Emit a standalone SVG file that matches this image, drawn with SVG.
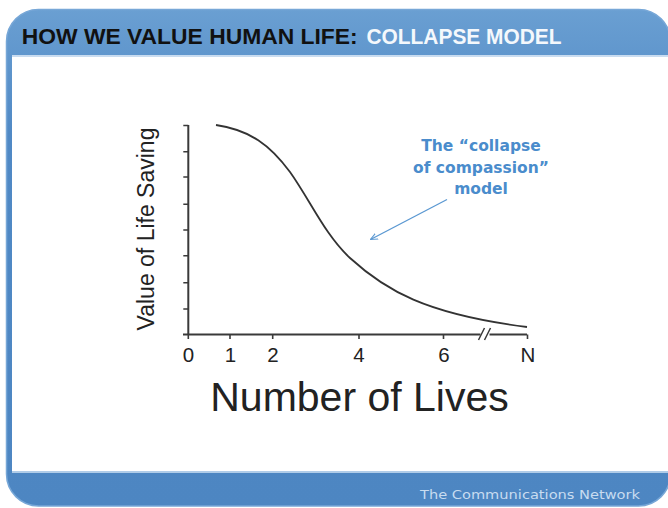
<svg xmlns="http://www.w3.org/2000/svg" width="668" height="508" viewBox="0 0 668 508">
<style>
.axis{stroke:#3a3a3a;stroke-width:2;fill:none}
.tick{stroke:#3a3a3a;stroke-width:1.6;fill:none}
.lbl{font-family:"Liberation Sans",Arial,sans-serif;fill:#222}
.note{font-family:"DejaVu Sans","Liberation Sans",sans-serif;font-weight:bold;font-size:15.5px;fill:#4a8ccc;text-anchor:middle}
</style>
<defs>
<linearGradient id="hdr" x1="0" y1="0" x2="0" y2="1">
<stop offset="0" stop-color="#6a9fd2"/>
<stop offset="0.25" stop-color="#5089c5"/>
<stop offset="1" stop-color="#4d86c2"/>
</linearGradient>
<marker id="ah" viewBox="0 0 10 10" refX="9" refY="5" markerWidth="8" markerHeight="8" orient="auto" markerUnits="userSpaceOnUse">
<path d="M0,1 L9,5 L0,9" fill="none" stroke="#5a98d2" stroke-width="1.3"/>
</marker>
</defs>
<rect width="668" height="508" fill="#ffffff"/>
<g id="frame">
<rect x="6.5" y="9.5" width="664" height="496.5" rx="32" ry="32" fill="url(#hdr)" stroke="#77a7d7" stroke-width="1.5"/>
<rect x="12" y="55" width="660" height="2" fill="#c9dcf0"/>
<rect x="12" y="57" width="660" height="414" fill="#ffffff"/>
<rect x="12" y="471" width="660" height="2" fill="#b0cce8"/>
<rect x="12" y="473" width="660" height="2" fill="#4d86c2"/>
</g>
<g id="header">
<text x="21.7" y="43.5" font-family="'Liberation Sans',Arial,sans-serif" font-weight="bold" font-size="22" fill="#111111" textLength="336" lengthAdjust="spacingAndGlyphs">HOW WE VALUE HUMAN LIFE:</text>
<text x="366.5" y="43.5" font-family="'Liberation Sans',Arial,sans-serif" font-weight="bold" font-size="22" fill="#f4f8fc" textLength="195" lengthAdjust="spacingAndGlyphs">COLLAPSE MODEL</text>
</g>
<g id="footer">
<text x="420" y="499" font-family="'DejaVu Sans','Liberation Sans',sans-serif" font-size="12.5" fill="#c8dcf0" textLength="220" lengthAdjust="spacingAndGlyphs">The Communications Network</text>
</g>
<g id="axes">
<path class="axis" d="M188.3,125 V334.5 M183,334.5 H527"/>
<path class="tick" d="M183.3,125.5 H188.3 M183.3,151.7 H188.3 M183.3,177 H188.3 M183.3,204.3 H188.3 M183.3,230 H188.3 M183.3,255.7 H188.3 M183.3,282.7 H188.3 M183.3,309 H188.3"/>
<path class="tick" d="M188.3,334.5 V339 M230,334.5 V339 M272.7,334.5 V339 M359,334.5 V339 M443.5,334.5 V339 M527.5,334.5 V339"/>
<rect x="480.5" y="333" width="9" height="3" fill="#ffffff"/>
<path d="M478.5,340 L484.5,328 M484.5,340 L490.5,328" stroke="#3a3a3a" stroke-width="1.5" fill="none"/>
<g class="lbl" font-size="20.5" text-anchor="middle">
<text x="188.5" y="362">0</text>
<text x="230.5" y="362">1</text>
<text x="273" y="362">2</text>
<text x="359" y="362">4</text>
<text x="444" y="362">6</text>
<text x="528" y="362">N</text>
</g>
<text class="lbl" x="359.5" y="410.5" font-size="41" text-anchor="middle">Number of Lives</text>
<text class="lbl" transform="translate(153.5,229) rotate(-90)" font-size="23" text-anchor="middle">Value of Life Saving</text>
</g>
<g id="curve">
<path d="M216,125 C250,130 270,145 290,172 C310,200 325,235 350,258 C385,290 425,314 527,327" fill="none" stroke="#333333" stroke-width="1.8"/>
</g>
<g id="annotation">
<text class="note" x="481" y="150.5">The “collapse</text>
<text class="note" x="481" y="172.5">of compassion”</text>
<text class="note" x="481" y="194">model</text>
</g>
<g id="connectors">
<line x1="447" y1="199.5" x2="370.5" y2="239.5" stroke="#5a98d2" stroke-width="1.3" marker-end="url(#ah)"/>
</g>
</svg>
